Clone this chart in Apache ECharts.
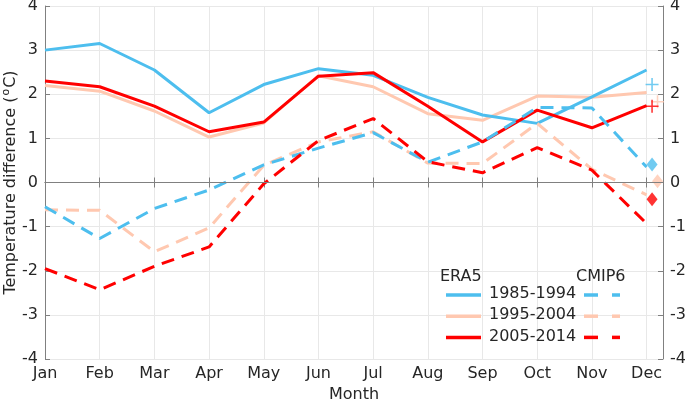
<!DOCTYPE html>
<html><head><meta charset="utf-8">
<script src="https://cdn.jsdelivr.net/npm/echarts@6/dist/echarts.min.js"></script>
<style>html,body{margin:0;padding:0;background:#fff}#c{width:685px;height:401px}</style>
</head><body><div id="c"></div>
<script>
const months = ['Jan','Feb','Mar','Apr','May','Jun','Jul','Aug','Sep','Oct','Nov','Dec'];
const yTicks = [-4,-3,-2,-1,0,1,2,3,4];
const periods = ['1985-1994','1995-2004','2005-2014'];
const era5_8594 = [3.00, 3.15, 2.55, 1.58, 2.22, 2.58, 2.43, 1.93, 1.53, 1.34, 1.94, 2.55];
const era5_9504 = [2.20, 2.07, 1.62, 1.03, 1.35, 2.42, 2.17, 1.56, 1.41, 1.96, 1.93, 2.04];
const era5_0514 = [2.30, 2.17, 1.73, 1.15, 1.37, 2.41, 2.49, 1.73, 0.92, 1.64, 1.24, 1.74];
const cmip_8594 = [-0.55, -1.27, -0.59, -0.17, 0.40, 0.78, 1.13, 0.46, 0.92, 1.70, 1.69, 0.35];
const cmip_9504 = [-0.62, -0.63, -1.57, -1.03, 0.39, 0.92, 1.15, 0.44, 0.43, 1.34, 0.30, -0.28];
const cmip_0514 = [-1.95, -2.43, -1.90, -1.46, -0.03, 0.95, 1.45, 0.47, 0.22, 0.79, 0.28, -0.93];
// annual-mean style markers right of Dec: [x, y]
const plusPts = [[12.1, 2.22], [12.2, 1.83], [12.1, 1.73]];
const diamPts = [[12.1, 0.41], [12.2, 0.03], [12.1, -0.38]];
const colors = ['#4dbeee', '#ffc8b0', '#ff0000'];

const toXY = arr => arr.map((v, i) => [i + 1, v]);
const txt = '#262626', axisCol = '#808080', gridCol = '#e8e8e8';
const series = [];
const era = [era5_8594, era5_9504, era5_0514];
const cmip = [cmip_8594, cmip_9504, cmip_0514];
const order = [1, 0, 2];
order.forEach(k => {
  series.push({type: 'line', name: 'ERA5 ' + periods[k], data: toXY(era[k]), symbol: 'none',
    lineStyle: {color: colors[k], width: 3}, z: 3});
});
order.forEach(k => {
  series.push({type: 'line', name: 'CMIP6 ' + periods[k], data: toXY(cmip[k]), symbol: 'none',
    lineStyle: {color: colors[k], width: 3, type: [13, 8]}, z: 3});
});
[0,1,2].forEach(k => {
  series.push({type: 'scatter', data: [plusPts[k]], symbol: 'path://M-1,-0.12H1V0.12H-1Z M-0.12,-1H0.12V1H-0.12Z',
    symbolSize: 13, itemStyle: {color: colors[k]}, clip: false, z: 4, silent: true});
  series.push({type: 'scatter', data: [diamPts[k]], symbol: 'diamond',
    symbolSize: [11, 14], itemStyle: {color: colors[k]}, clip: false, z: 4, silent: true});
});
series.push({type: 'line', data: [], markLine: {silent: true, symbol: 'none', label: {show: false},
  lineStyle: {color: axisCol, width: 1, type: 'solid'}, data: [{yAxis: 0}]}, z: 2});

const chart = echarts.init(document.getElementById('c'), null, {renderer: 'canvas'});
const grid = {left: 45, right: 22, top: 6, bottom: 42, containLabel: false, outerBoundsMode: 'none'};
const font = 'DejaVu Sans';
chart.setOption({
  animation: false,
  backgroundColor: '#fff',
  textStyle: {fontFamily: font},
  grid: grid,
  xAxis: [{
    type: 'value', min: 1, max: 12.3, interval: 1, position: 'bottom',
    name: 'Month', nameLocation: 'middle', nameGap: 25,
    nameTextStyle: {fontSize: 16, color: txt, fontFamily: font},
    axisLine: {show: true, lineStyle: {color: axisCol, width: 1}},
    axisTick: {show: true, inside: true, length: 5, lineStyle: {color: axisCol}},
    axisLabel: {fontSize: 16, color: txt, margin: 7, fontFamily: font, showMaxLabel: false,
      formatter: v => (Number.isInteger(v) && v >= 1 && v <= 12) ? months[v - 1] : ''},
    splitLine: {show: true, lineStyle: {color: gridCol, width: 1}}
  }, {
    type: 'value', min: 1, max: 12.3, interval: 1, position: 'top',
    axisLine: {show: true, lineStyle: {color: axisCol, width: 1}},
    axisTick: {show: true, inside: true, length: 5, lineStyle: {color: axisCol}},
    axisLabel: {show: false}, splitLine: {show: false}
  }],
  yAxis: [{
    type: 'value', min: yTicks[0], max: yTicks[yTicks.length - 1], interval: 1, position: 'left',
    name: '{a|Temperature difference (}{s|o}{a|C)}', nameLocation: 'middle', nameGap: 24, nameRotate: 90,
    nameMoveOverlap: false,
    nameTextStyle: {color: txt, fontFamily: font, rich: {
      a: {fontSize: 16, color: txt, fontFamily: font},
      s: {fontSize: 11, color: txt, fontFamily: font, padding: [0, 1, 9, 1]}}},
    axisLine: {show: true, lineStyle: {color: axisCol, width: 1}},
    axisTick: {show: true, inside: true, length: 5, lineStyle: {color: axisCol}},
    axisLabel: {fontSize: 16, color: txt, margin: 7, fontFamily: font},
    splitLine: {show: true, lineStyle: {color: gridCol, width: 1}}
  }, {
    type: 'value', min: yTicks[0], max: yTicks[yTicks.length - 1], interval: 1, position: 'right',
    axisLine: {show: true, lineStyle: {color: axisCol, width: 1}},
    axisTick: {show: true, inside: true, length: 5, lineStyle: {color: axisCol}},
    axisLabel: {fontSize: 16, color: txt, margin: 7, fontFamily: font},
    splitLine: {show: false}
  }],
  series: series,
  graphic: [
    {type: 'text', left: 440, top: 269, style: {text: 'ERA5', fontSize: 16, fill: txt, fontFamily: font}, z: 10},
    {type: 'text', left: 576, top: 269, style: {text: 'CMIP6', fontSize: 16, fill: txt, fontFamily: font}, z: 10},
  ].concat(...[0,1,2].map(k => {
    const y = 295 + k * 21.2;
    return [
      {type: 'line', shape: {x1: 446, y1: y, x2: 481, y2: y}, style: {stroke: colors[k], lineWidth: 3.5}, z: 10},
      {type: 'text', left: 489, top: y - 9, style: {text: periods[k], fontSize: 16, fill: txt, fontFamily: font}, z: 10},
      {type: 'line', shape: {x1: 584, y1: y, x2: 598, y2: y}, style: {stroke: colors[k], lineWidth: 3.5}, z: 10},
      {type: 'line', shape: {x1: 612, y1: y, x2: 620, y2: y}, style: {stroke: colors[k], lineWidth: 3.5}, z: 10}
    ];
  }))
});
</script></body></html>
